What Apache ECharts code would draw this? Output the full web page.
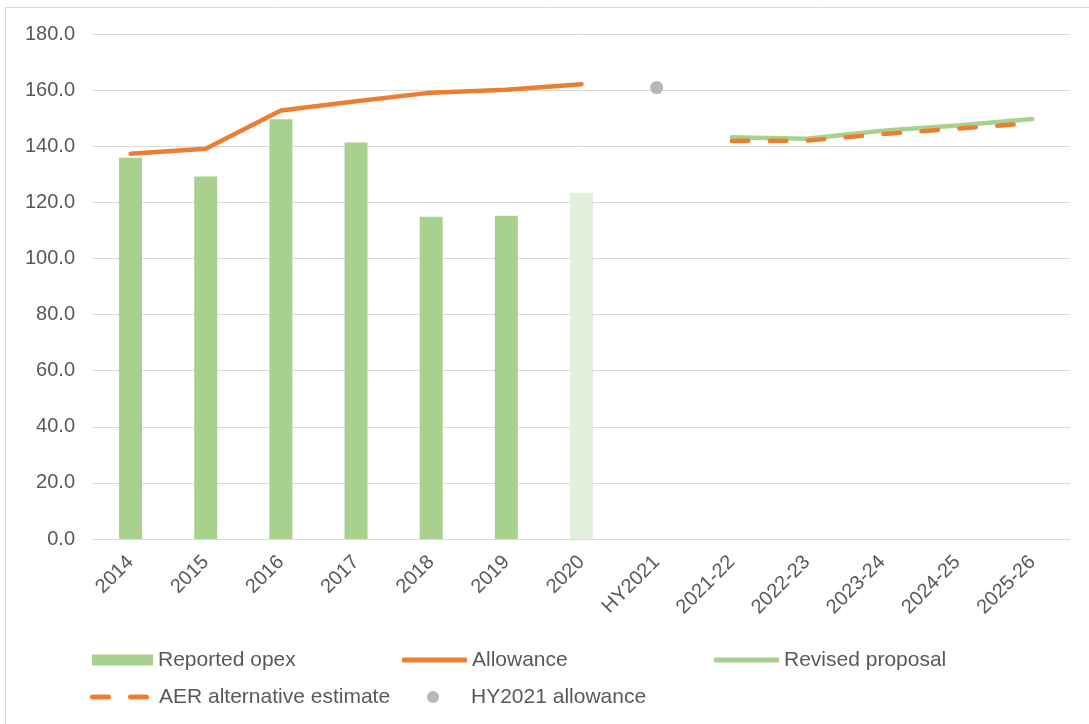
<!DOCTYPE html>
<html>
<head>
<meta charset="utf-8">
<script src="https://cdn.jsdelivr.net/npm/echarts@6/dist/echarts.min.js"></script>
<style>
html,body{margin:0;padding:0;background:#fff;}
#chart{width:1089px;height:724px;}
</style>
</head>
<body>
<div id="chart"></div>
<script>
const categories = ['2014','2015','2016','2017','2018','2019','2020','HY2021','2021-22','2022-23','2023-24','2024-25','2025-26'];
const reportedOpex = [135.9, 129.2, 149.6, 141.3, 114.9, 115.2, 123.4, null, null, null, null, null, null];
const allowance = [137.3, 139.1, 152.7, 156.0, 159.1, 160.1, 162.1, null, null, null, null, null, null];
const revisedProposal = [null, null, null, null, null, null, null, null, 143.2, 142.7, 145.5, 147.4, 149.7];
const aerAlternative = [null, null, null, null, null, null, null, null, 141.9, 142.0, 144.3, 146.3, 148.2];
const hy2021Allowance = [null, null, null, null, null, null, null, 160.9, null, null, null, null, null];
const yTicks = {min: 0, max: 180, interval: 20};

const GREEN = '#A9D18E', LIGHT_GREEN = '#E2EFDA', ORANGE = '#ED7D31', GREY = '#A5A5A5', TEXT = '#595959', GRID = '#D9D9D9';
const FONT = 'Liberation Sans, Arial, sans-serif';
const AER_DASH = [16.5, 21.5];
const DASH_ICON = 'path://M2.5,0h16a2.5,2.5,0,0,1,0,5h-16a2.5,2.5,0,0,1,0,-5z M40.5,0h16a2.5,2.5,0,0,1,0,5h-16a2.5,2.5,0,0,1,0,-5z';

const chart = echarts.init(document.getElementById('chart'), null, {renderer: 'canvas'});

const barData = reportedOpex.map((v, i) => {
  if (v === null) return '-';
  if (categories[i] === '2020') return {value: v, itemStyle: {color: LIGHT_GREEN}};
  return v;
});
const dash = arr => arr.map(v => v === null ? '-' : v);

const legendText = {color: TEXT, fontSize: 21, fontFamily: FONT, lineHeight: 22};
function leg(item, left, top, w, h, extra) {
  return Object.assign({
    data: [item], left: left, top: top, itemWidth: w, itemHeight: h,
    itemGap: 0, padding: 0, textStyle: legendText, selectedMode: false
  }, extra || {});
}

chart.setOption({
  animation: false,
  backgroundColor: '#fff',
  graphic: [
    {type: 'polyline', shape: {points: [[5.5, 724], [5.5, 7.5], [1089, 7.5]]}, style: {stroke: GRID, lineWidth: 1, fill: null}}
  ],
  grid: {left: 93, right: 19, top: 34, bottom: 185, containLabel: false},
  legend: [
    leg({name: 'Reported opex', icon: 'rect'}, 92, 649, 61, 11),
    leg({name: 'Allowance', icon: 'roundRect', itemStyle: {color: ORANGE}}, 402, 649, 65, 5),
    leg({name: 'Revised proposal', icon: 'roundRect', itemStyle: {color: GREEN}}, 714, 649, 65, 5),
    leg({name: 'AER alternative estimate', icon: DASH_ICON, itemStyle: {color: ORANGE}}, 90, 686, 59, 5,
        {textStyle: Object.assign({}, legendText, {padding: [0, 0, 0, 5]})}),
    leg({name: 'HY2021 allowance', icon: 'circle'}, 427, 686, 12, 12, {textStyle: Object.assign({}, legendText, {padding: [0, 0, 0, 27]})})
  ],
  xAxis: {
    type: 'category',
    data: categories,
    boundaryGap: true,
    axisLine: {show: true, lineStyle: {color: GRID, width: 1}},
    axisTick: {show: false},
    axisLabel: {rotate: 45, margin: 20, color: TEXT, fontSize: 20, fontFamily: FONT, interval: 0},
    splitLine: {show: false}
  },
  yAxis: {
    type: 'value',
    min: yTicks.min, max: yTicks.max, interval: yTicks.interval,
    axisLine: {show: false},
    axisTick: {show: false},
    axisLabel: {margin: 18, color: TEXT, fontSize: 20, fontFamily: FONT, formatter: v => v.toFixed(1)},
    splitLine: {lineStyle: {color: GRID, width: 1}}
  },
  series: [
    {
      name: 'Reported opex', type: 'bar', data: barData, barWidth: 23,
      itemStyle: {color: GREEN}, z: 2
    },
    {
      name: 'Allowance', type: 'line', data: dash(allowance), symbol: 'none',
      lineStyle: {color: ORANGE, width: 4.5, cap: 'round', join: 'round'},
      itemStyle: {color: ORANGE}, z: 3
    },
    {
      name: 'Revised proposal', type: 'line', data: dash(revisedProposal), symbol: 'none',
      lineStyle: {color: GREEN, width: 4.5, cap: 'round', join: 'round'},
      itemStyle: {color: GREEN}, z: 3
    },
    {
      name: 'AER alternative estimate', type: 'line', data: dash(aerAlternative), symbol: 'none',
      lineStyle: {color: ORANGE, width: 4.5, type: AER_DASH, cap: 'round', join: 'round'},
      itemStyle: {color: ORANGE}, z: 4
    },
    {
      name: 'HY2021 allowance', type: 'scatter', data: dash(hy2021Allowance), symbol: 'circle', symbolSize: 13,
      itemStyle: {color: GREY}, z: 4
    }
  ]
});
</script>
</body>
</html>
